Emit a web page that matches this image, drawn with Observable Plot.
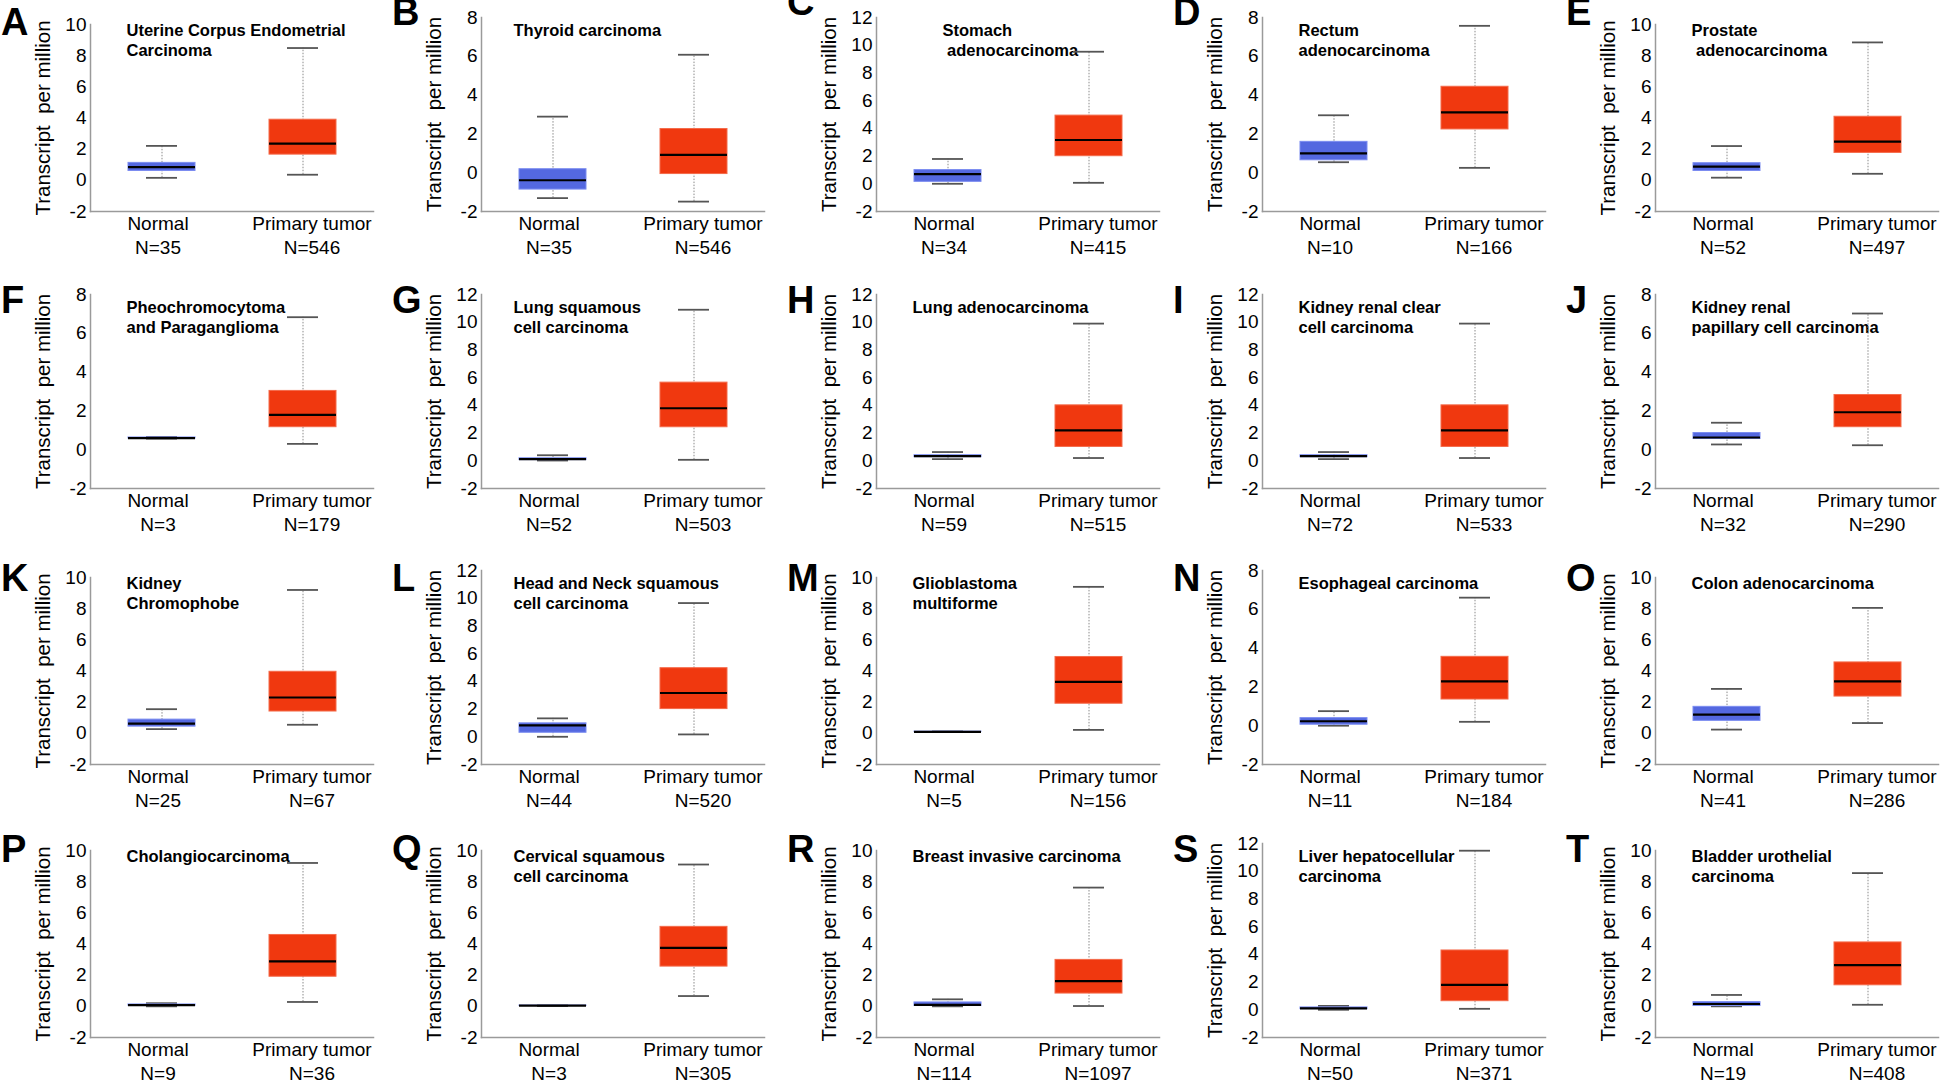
<!DOCTYPE html>
<html><head><meta charset="utf-8">
<script src="https://cdn.jsdelivr.net/npm/d3@7"></script>
<script src="https://cdn.jsdelivr.net/npm/@observablehq/plot@0.6"></script>
<style>
html,body{margin:0;padding:0;background:#fff;width:1946px;height:1082px;overflow:hidden;}
#fig{position:relative;width:1946px;height:1082px;font-family:"Liberation Sans",Arial,sans-serif;overflow:hidden;}
.panel{position:absolute;width:391px;height:276px;}
.panel svg{max-width:none !important;width:391px;height:276px;}
.letter{position:absolute;font-weight:bold;font-size:38px;line-height:1;color:#000;}
svg text{white-space:pre;}
</style></head><body><div id="fig"></div>
<script>
// ---- data ----
const letters = ["A","B","C","D","E","F","G","H","I","J","K","L","M","N","O","P","Q","R","S","T"];
const titles = [
  "Uterine Corpus Endometrial\nCarcinoma",
  "Thyroid carcinoma",
  "Stomach\n adenocarcinoma",
  "Rectum\nadenocarcinoma",
  "Prostate\n adenocarcinoma",
  "Pheochromocytoma\nand Paraganglioma",
  "Lung squamous\ncell carcinoma",
  "Lung adenocarcinoma",
  "Kidney renal clear\ncell carcinoma",
  "Kidney renal\npapillary cell carcinoma",
  "Kidney\nChromophobe",
  "Head and Neck squamous\ncell carcinoma",
  "Glioblastoma\nmultiforme",
  "Esophageal carcinoma",
  "Colon adenocarcinoma",
  "Cholangiocarcinoma",
  "Cervical squamous\ncell carcinoma",
  "Breast invasive carcinoma",
  "Liver hepatocellular\ncarcinoma",
  "Bladder urothelial\ncarcinoma"
];
const groups = ["Normal", "Primary tumor"];
const normalN = [35,35,34,10,52,3,52,59,72,32,25,44,5,11,41,9,3,114,50,19];
const tumorN  = [546,546,415,166,497,179,503,515,533,290,67,520,156,184,286,36,305,1097,371,408];
const yMax    = [10,8,12,8,10,8,12,12,12,8,10,12,10,8,10,10,10,10,12,10];
const yLabel = "Transcript  per million";
// [min, q1, median, q3, max]
const normalStats = [
  [0.16,0.60,0.85,1.12,2.21],
  [-1.31,-0.87,-0.39,0.18,2.89],
  [0.00,0.14,0.69,0.99,1.79],
  [0.54,0.64,1.00,1.59,2.96],
  [0.17,0.60,0.88,1.10,2.20],
  [0.57,0.58,0.60,0.63,0.66],
  [0.02,0.05,0.12,0.18,0.40],
  [0.12,0.26,0.33,0.40,0.63],
  [0.12,0.26,0.33,0.40,0.63],
  [0.27,0.55,0.63,0.86,1.39],
  [0.27,0.43,0.62,0.88,1.55],
  [0.00,0.29,0.82,0.97,1.33],
  [0.10,0.10,0.10,0.11,0.12],
  [0.00,0.05,0.23,0.39,0.75],
  [0.24,0.80,1.20,1.70,2.85],
  [0.00,0.04,0.08,0.12,0.20],
  [0.02,0.03,0.04,0.05,0.06],
  [0.00,0.02,0.10,0.25,0.45],
  [0.00,0.05,0.10,0.17,0.28],
  [0.00,0.02,0.15,0.27,0.73]
];
const tumorStats = [
  [0.36,1.65,2.35,3.89,8.49],
  [-1.49,-0.07,0.92,2.25,6.08],
  [0.07,1.99,3.16,4.92,9.53],
  [0.25,2.23,3.11,4.43,7.57],
  [0.42,1.76,2.48,4.08,8.85],
  [0.30,1.16,1.80,3.03,6.83],
  [0.07,2.42,3.79,5.64,10.90],
  [0.20,1.00,2.20,4.00,9.90],
  [0.20,1.00,2.20,4.00,9.90],
  [0.23,1.16,1.93,2.82,7.02],
  [0.55,1.40,2.30,3.95,9.20],
  [0.17,2.00,3.16,4.95,9.65],
  [0.22,1.90,3.30,4.90,9.40],
  [0.20,1.35,2.28,3.55,6.60],
  [0.66,2.36,3.33,4.55,8.05],
  [0.28,1.90,2.88,4.58,9.20],
  [0.66,2.55,3.75,5.10,9.10],
  [0.02,0.82,1.62,2.98,7.62],
  [0.07,0.62,1.80,4.28,11.48],
  [0.10,1.35,2.65,4.10,8.55]
];

// ---- layout ----
const colLeft = [0, 391, 786, 1172, 1565];
const rowTop = [0, 277, 553, 826];
const W = 391, H = 276, ML = 90, MB = 65, FW = 283;
const boxFill = {"Normal": "#5468e0", "Primary tumor": "#f0380f"};
const boxEdge = {"Normal": "#7b8cf0", "Primary tumor": "#f46a4a"};
const letterBase = [[35,25,15,25,25],[36,36,36,36,36],[38,38,38,38,38],[36,36,36,36,36]];
const colTitleShift = [0, -4, 0, 0, 0];

const fig = document.getElementById("fig");
letters.forEach((L, i) => {
  const r = Math.floor(i / 5), c = i % 5;
  const toKey = s => ({min: s[0], q1: s[1], median: s[2], q3: s[3], max: s[4]});
  const rows = [
    {group: groups[0], ...toKey(normalStats[i])},
    {group: groups[1], ...toKey(tumorStats[i])}
  ];
  const top = yMax[i] === 10 ? 24 : 17;
  const ticks = d3.range(-2, yMax[i] + 1, 2);
  const nLab = {[groups[0]]: normalN[i], [groups[1]]: tumorN[i]};
  const titleDx = 36 + colTitleShift[c] + (L === "C" ? 30 : 0);
  const xAxisOpts = {tickSize: 0, tickPadding: 2.5, fontSize: 19, label: null, lineHeight: 1.22,
    tickFormat: d => `${d}\nN=${nLab[d]}`};
  const chart = Plot.plot({
    width: W, height: H,
    marginLeft: ML, marginRight: W - ML - FW, marginTop: top, marginBottom: MB,
    style: {fontFamily: "'Liberation Sans', Arial, sans-serif", fontSize: "19px", color: "#000", background: "transparent", overflow: "visible"},
    x: {domain: groups, padding: 0, axis: null},
    y: {domain: [-2, yMax[i]], axis: null},
    marks: [
      Plot.frame({anchor: "left", stroke: "#9a9a9a", strokeWidth: 1.5}),
      Plot.frame({anchor: "bottom", stroke: "#9a9a9a", strokeWidth: 1.5}),
      Plot.axisY({ticks, tickSize: 0, tickPadding: 4, fontSize: 19, label: null, tickFormat: d => String(d)}),
      Plot.axisX({...xAxisOpts, ticks: [groups[0]], dx: -4}),
      Plot.axisX({...xAxisOpts, ticks: [groups[1]], dx: 9}),
      Plot.text([yLabel], {frameAnchor: "left", text: d => d, rotate: -90, dx: -47,
        textAnchor: "middle", lineAnchor: "middle", fontSize: 20.5}),
      Plot.text([titles[i]], {frameAnchor: "top-left", text: d => d, dx: titleDx, dy: 21 - top,
        textAnchor: "start", lineAnchor: "top", fontWeight: "bold", fontSize: 16.5, lineHeight: 1.22}),
      Plot.ruleX(rows, {x: "group", y1: "min", y2: "max", stroke: "#8a8a8a", strokeWidth: 1, strokeDasharray: "1.5,1.5"}),
      Plot.tickY(rows, {x: "group", y: "min", insetLeft: 55, insetRight: 55, stroke: "#555", strokeWidth: 1.8}),
      Plot.tickY(rows, {x: "group", y: "max", insetLeft: 55, insetRight: 55, stroke: "#555", strokeWidth: 1.8}),
      Plot.barY(rows, {x: "group", y1: "q1", y2: "q3", insetLeft: 37, insetRight: 37,
        fill: d => boxFill[d.group], stroke: d => boxEdge[d.group], strokeWidth: 1}),
      Plot.tickY(rows, {x: "group", y: "median", insetLeft: 37, insetRight: 37, stroke: "#000", strokeWidth: 2.2})
    ]
  });
  const wrap = document.createElement("div");
  wrap.className = "panel";
  wrap.style.left = colLeft[c] + "px";
  wrap.style.top = rowTop[r] + "px";
  wrap.appendChild(chart);
  fig.appendChild(wrap);

  const lt = document.createElement("div");
  lt.className = "letter";
  lt.textContent = L;
  lt.style.left = (colLeft[c] + 1) + "px";
  // baseline sits at ~0.846em below the box top for line-height 1
  lt.style.top = (rowTop[r] + letterBase[r][c] - 32) + "px";
  fig.appendChild(lt);
});
</script>
</body></html>
